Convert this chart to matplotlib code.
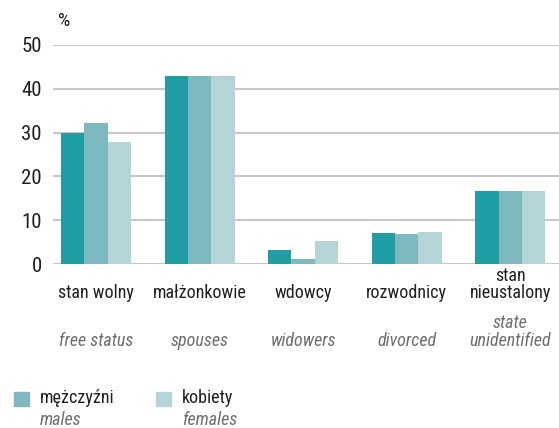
import matplotlib
matplotlib.use("Agg")
import matplotlib.pyplot as plt
from matplotlib.patches import Rectangle
import numpy as np

categories_pl = ["stan wolny", "małżonkowie", "wdowcy", "rozwodnicy", "stan\nnieustalony"]
categories_en = ["free status", "spouses", "widowers", "divorced", "state\nunidentified"]
series_a = [30.0, 43.0, 3.2, 7.1, 16.7]   # dark teal
series_b = [32.3, 43.0, 1.1, 6.9, 16.7]   # mid teal
series_c = [27.9, 43.0, 5.3, 7.3, 16.7]   # light teal
yticks = [0, 10, 20, 30, 40, 50]
legend_pl = ["mężczyźni", "kobiety"]
legend_en = ["males", "females"]

c_dark = "#1f9ea6"
c_mid = "#7fb9c0"
c_light = "#b4d4d8"
grid_c = "#c8c8c8"
txt_c = "#231f20"
gray_c = "#6d6e71"

plt.rcParams['font.family'] = ['Roboto Condensed', 'Lato', 'DejaVu Sans']

W, H = 559, 428
fig = plt.figure(figsize=(W / 100, H / 100), dpi=100)
ax = fig.add_axes([53 / W, 1 - 264 / H, 1 - 53 / W, (264 - 45) / H])

x = np.arange(len(categories_pl))
bw = 0.225
ax.bar(x - bw, series_a, bw, color=c_dark, zorder=3)
ax.bar(x, series_b, bw, color=c_mid, zorder=3)
ax.bar(x + bw, series_c, bw, color=c_light, zorder=3)

ax.set_xlim(-0.415, 4.47)
ax.set_ylim(0, 50)
ax.set_yticks(yticks)
ax.set_yticklabels([str(v) for v in yticks], fontsize=15, color=txt_c)
ax.tick_params(axis='y', length=0, pad=8)
ax.set_xticks([])
for s in ax.spines.values():
    s.set_visible(False)
for v in yticks:
    ax.axhline(v, color=grid_c, lw=1.5, zorder=1)

for i in x:
    ax.text(i, -0.155, categories_pl[i], transform=ax.get_xaxis_transform(),
            ha='center', va='baseline', fontsize=13, color=txt_c, linespacing=0.9)
    ax.text(i, -0.375, categories_en[i], transform=ax.get_xaxis_transform(),
            ha='center', va='baseline', fontsize=13, color=gray_c, style='italic',
            linespacing=1.0)

fig.text(58 / W, 1 - 26 / H, "%", fontsize=14, color=txt_c, ha='left', va='baseline')

leg_colors = [c_mid, c_light]
leg_x = [14, 156]
for lx, col, lp, le in zip(leg_x, leg_colors, legend_pl, legend_en):
    fig.patches.append(Rectangle((lx / W, 1 - 406 / H), 15 / W, 14 / H,
                                 transform=fig.transFigure, color=col))
    fig.text((lx + 26) / W, 1 - 403 / H, lp, fontsize=13, color=txt_c,
             ha='left', va='baseline')
    fig.text((lx + 26) / W, 1 - 425 / H, le, fontsize=13, color=gray_c,
             style='italic', ha='left', va='baseline')

fig.savefig("out.png", dpi=100)
